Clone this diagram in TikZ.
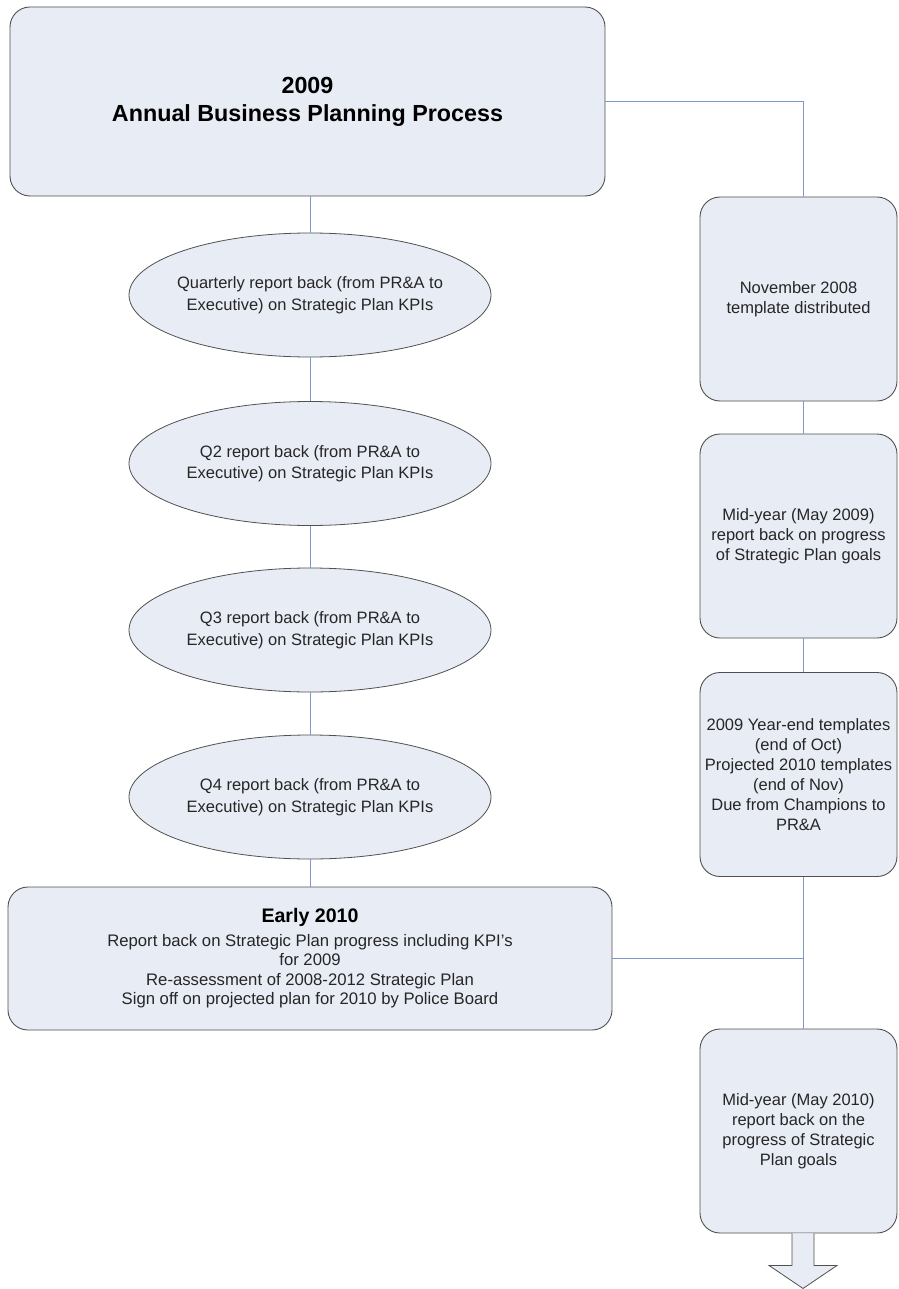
\documentclass[tikz,border=0pt]{standalone}
\usepackage{fontspec}
\setmainfont{Liberation Sans}
\usetikzlibrary{shapes.geometric}
\definecolor{boxfill}{RGB}{232,236,245}
\definecolor{boxline}{RGB}{80,80,80}
\definecolor{linkblue}{RGB}{125,152,206}

\begin{document}
\begin{tikzpicture}[x=1pt, y=1pt,
    box/.style={draw=boxline, fill=boxfill, rounded corners=20pt, line width=0.9pt, align=center, inner sep=0pt, text=black!85, font=\fontsize{16.5}{20}\selectfont},
    oval/.style={ellipse, draw=boxline, fill=boxfill, line width=0.8pt, minimum width=362pt, minimum height=124pt, inner xsep=-20pt, inner ysep=0pt, align=center, text=black!85, font=\fontsize{16.5}{21.5}\selectfont},
    side/.style={box, minimum width=197pt, minimum height=204pt},
    link/.style={draw=linkblue, line width=1pt},
]
\useasboundingbox (0,0) rectangle (898,-1289);

% Main process box
\node[box, minimum width=595pt, minimum height=189pt, font=\fontsize{23.3}{28}\selectfont\bfseries, text=black] (plan) at (307.5,-101.5) {2009\\Annual Business Planning Process};

% Quarterly report backs
\node[oval] (q1) at (310,-295) {Quarterly report back (from PR\&A to\\Executive) on Strategic Plan KPIs};
\node[oval] (q2) at (310,-463.5) {Q2 report back (from PR\&A to\\Executive) on Strategic Plan KPIs};
\node[oval] (q3) at (310,-630) {Q3 report back (from PR\&A to\\Executive) on Strategic Plan KPIs};
\node[oval] (q4) at (310,-797) {Q4 report back (from PR\&A to\\Executive) on Strategic Plan KPIs};

% Early 2010 box
\node[box, minimum width=604pt, minimum height=143pt, font=\fontsize{16.7}{19.5}\selectfont] (early) at (310,-958.5) {{\fontsize{19.6}{24}\selectfont\bfseries\color{black} Early 2010}\\[4pt]Report back on Strategic Plan progress including KPI's\\for 2009\\Re-assessment of 2008-2012 Strategic Plan\\Sign off on projected plan for 2010 by Police Board};

% Template column
\coordinate (rail) at (803,0);
\node[side] (nov) at (798.5,-299) {November 2008\\template distributed};
\node[side] (may09) at (798.5,-536) {Mid-year (May 2009)\\report back on progress\\of Strategic Plan goals};
\node[side] (yearend) at (798.5,-774.5) {2009 Year-end templates\\(end of Oct)\\Projected 2010 templates\\(end of Nov)\\Due from Champions to\\PR\&A};
\node[side] (may10) at (798.5,-1131) {Mid-year (May 2010)\\report back on the\\progress of Strategic\\Plan goals};

% Connectors
\draw[link] (q1.north |- plan.south) -- (q1.north);
\draw[link] (q1.south) -- (q2.north);
\draw[link] (q2.south) -- (q3.north);
\draw[link] (q3.south) -- (q4.north);
\draw[link] (q4.south) -- (q4.south |- early.north);
\draw[link] (plan.east) -| (rail |- nov.north);
\draw[link] (rail |- nov.south) -- (rail |- may09.north);
\draw[link] (rail |- may09.south) -- (rail |- yearend.north);
\draw[link] (rail |- yearend.south) -- (rail |- may10.north);
\draw[link] (early.east) -- (rail |- early.east);

% Block arrow out of the last box
\coordinate (tail) at (rail |- may10.south);
\draw[draw=boxline, fill=boxfill, line width=0.8pt, line join=miter] ([xshift=-11pt]tail) -- ++(0,-32) -- ++(-23,0) -- ++(34,-23) -- ++(34,23) -- ++(-23,0) -- ++(0,32);

\end{tikzpicture}
\end{document}
